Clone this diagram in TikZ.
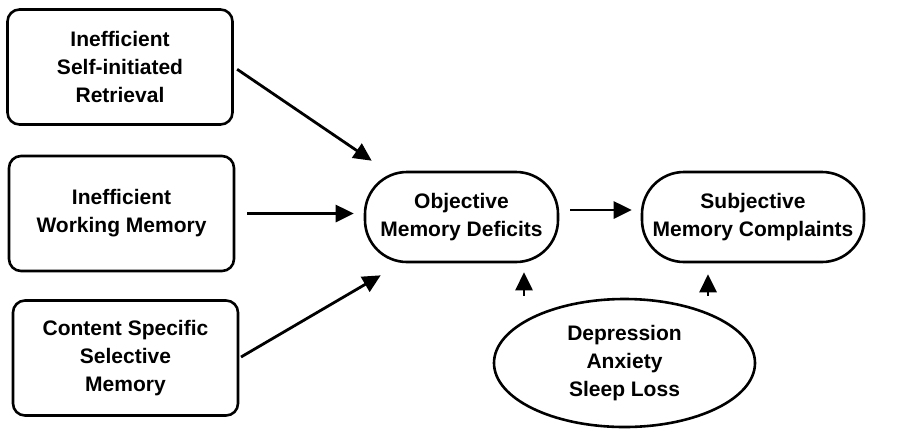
\documentclass[tikz,border=0pt]{standalone}
\usepackage{fontspec}
\setmainfont{Liberation Sans}
\usetikzlibrary{arrows.meta,shapes.geometric}

\begin{document}
\begin{tikzpicture}[
  x=0.5pt,
  y=-0.5pt,
  line join=round,
  every node/.style={font=\bfseries\fontsize{10.5}{14}\selectfont},
  cause/.style={draw=black,line width=1.3pt,rounded corners=6pt,
    minimum width=112.5pt,minimum height=57.5pt,inner sep=2pt,align=center},
  outcome/.style={draw=black,line width=1.3pt,rounded corners=21pt,
    minimum height=45pt,inner sep=2pt,align=center},
  mood/.style={draw=black,line width=1.3pt,ellipse,
    minimum width=130.5pt,minimum height=64pt,inner sep=0pt,align=center},
  link/.style={draw=black,line width=1.4pt,-{Triangle[length=9pt,width=8.5pt]}}
]
  % Canvas in pixel units of the original figure.
  \useasboundingbox (0,0) rectangle (920,430);

  % Three retrieval factors on the left.
  \node[cause] (retrieval) at (120,67) {Inefficient\\Self-initiated\\Retrieval};
  \node[cause] (working) at (121.5,213.5) {Inefficient\\Working Memory};
  \node[cause] (selective) at (125.5,358) {Content Specific\\Selective\\Memory};

  % Deficits, complaints and the mood factors below.
  \node[outcome,minimum width=96.5pt] (objective) at (461.5,217) {Objective\\Memory Deficits};
  \node[outcome,minimum width=111pt] (subjective) at (753,217) {Subjective\\Memory Complaints};
  \node[mood] (mood) at (624.5,363) {Depression\\Anxiety\\Sleep Loss};

  % Arrows from the factors into the deficits.
  \draw[link,shorten <=2pt] (retrieval.east) -- ([shift={(8,-10)}]objective.north west);
  \draw[link,shorten <=6pt,shorten >=5pt] (working.east) -- (working.east -| objective.west);
  \draw[link,shorten <=1pt] (selective.east) -- ([shift={(17,12)}]objective.south west);
  \draw[link,shorten <=5.5pt,shorten >=4.5pt] ([yshift=3.5pt]objective.east) -- ([yshift=3.5pt]subjective.west);

  % Short upward arrows from the mood ellipse.
  \coordinate (upleft) at (524,0);
  \coordinate (upright) at (708,0);
  \draw[link,shorten <=1pt,shorten >=4.5pt] (mood.north -| upleft) -- (objective.south -| upleft);
  \draw[link,shorten <=1pt,shorten >=5.5pt] (mood.north -| upright) -- (subjective.south -| upright);
\end{tikzpicture}
\end{document}
